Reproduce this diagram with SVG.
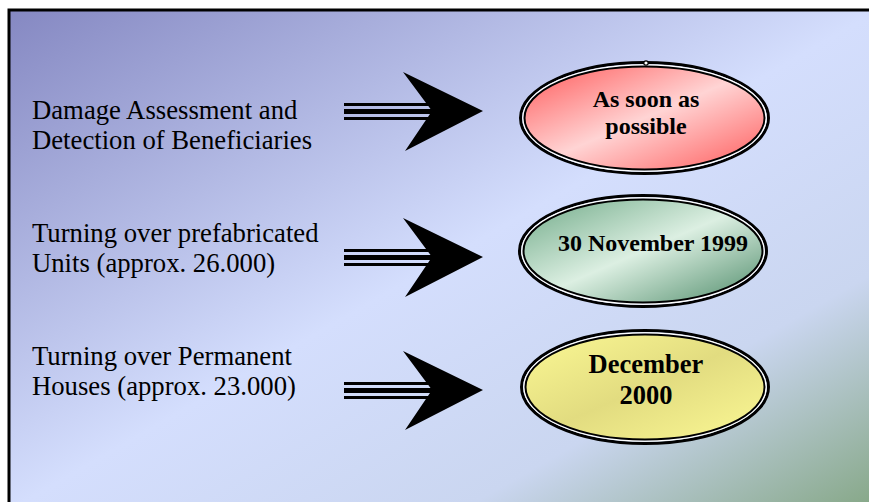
<svg xmlns="http://www.w3.org/2000/svg" width="869" height="502" viewBox="0 0 869 502">
<defs>
<linearGradient id="bg" x1="0" y1="0" x2="1" y2="1">
<stop offset="0" stop-color="#8588c2"/>
<stop offset="0.5" stop-color="#d4defd"/>
<stop offset="0.76" stop-color="#cad6f0"/>
<stop offset="1" stop-color="#84a684"/>
</linearGradient>
<linearGradient id="gRed" x1="0" y1="0" x2="1" y2="1">
<stop offset="0" stop-color="#ff5a5a"/>
<stop offset="0.5" stop-color="#ffd4d4"/>
<stop offset="1" stop-color="#ff5a5a"/>
</linearGradient>
<linearGradient id="gGreen" x1="0" y1="0" x2="1" y2="1">
<stop offset="0" stop-color="#70aa88"/>
<stop offset="0.5" stop-color="#dcefe2"/>
<stop offset="1" stop-color="#4f8c6a"/>
</linearGradient>
<linearGradient id="gYellow" x1="0" y1="0" x2="1" y2="1">
<stop offset="0" stop-color="#fbf894"/>
<stop offset="0.5" stop-color="#e2dc80"/>
<stop offset="1" stop-color="#fbf894"/>
</linearGradient>
<g id="arrow">
<rect x="344" y="-8" width="90" height="3" fill="#000"/>
<rect x="344" y="-2" width="90" height="5" fill="#000"/>
<rect x="344" y="6" width="90" height="3" fill="#000"/>
<polygon points="403,-39 483,0 405,40 432,0" fill="#000"/>
</g>
</defs>
<style>
.lbl{font-family:"Liberation Serif","Times New Roman",serif;font-size:26.7px;fill:#000}
.val{font-family:"Liberation Serif","Times New Roman",serif;font-weight:bold;fill:#000;text-anchor:middle}
.outer{stroke:#000;stroke-width:3;fill:none}
.gap{stroke:#fff;stroke-width:1.5;fill:none}
.inner{stroke:#000;stroke-width:2}
</style>
<rect x="0" y="0" width="869" height="502" fill="#fff"/>
<rect x="9" y="10" width="870" height="500" fill="url(#bg)" stroke="#000" stroke-width="3"/>

<g id="connectors">
<use href="#arrow" transform="translate(0,111)"/>
<use href="#arrow" transform="translate(0,257)"/>
<use href="#arrow" transform="translate(0,390)"/>
</g>

<g id="label1">
<text class="lbl" x="32" y="119">Damage Assessment and</text>
<text class="lbl" x="32" y="149">Detection of Beneficiaries</text>
</g>
<g id="label2">
<text class="lbl" x="32" y="242">Turning over prefabricated</text>
<text class="lbl" x="32" y="272">Units (approx. 26.000)</text>
</g>
<g id="label3">
<text class="lbl" x="32" y="365">Turning over Permanent</text>
<text class="lbl" x="32" y="395">Houses (approx. 23.000)</text>
</g>

<g id="node1">
<ellipse cx="644.5" cy="118" rx="124" ry="55.5" class="outer"/>
<ellipse cx="644.5" cy="118" rx="121.5" ry="53" class="gap"/>
<ellipse cx="644.5" cy="118" rx="120" ry="51.5" fill="url(#gRed)" class="inner"/>
<circle cx="646" cy="63" r="2.2" fill="#fff" stroke="#000" stroke-width="1.2"/>
<text class="val" x="646" y="107" font-size="24">As soon as</text>
<text class="val" x="646" y="134" font-size="24">possible</text>
</g>
<g id="node2">
<ellipse cx="643" cy="251" rx="123.5" ry="55.5" class="outer"/>
<ellipse cx="643" cy="251" rx="121" ry="53" class="gap"/>
<ellipse cx="643" cy="251" rx="119.5" ry="51.5" fill="url(#gGreen)" class="inner"/>
<text class="val" x="653" y="251" font-size="24">30 November 1999</text>
</g>
<g id="node3">
<ellipse cx="645" cy="387" rx="123.5" ry="56.5" class="outer"/>
<ellipse cx="645" cy="387" rx="121" ry="54" class="gap"/>
<ellipse cx="645" cy="387" rx="119.5" ry="52.5" fill="url(#gYellow)" class="inner"/>
<text class="val" x="646" y="373" font-size="26.5">December</text>
<text class="val" x="646" y="404" font-size="26.5">2000</text>
</g>
</svg>
